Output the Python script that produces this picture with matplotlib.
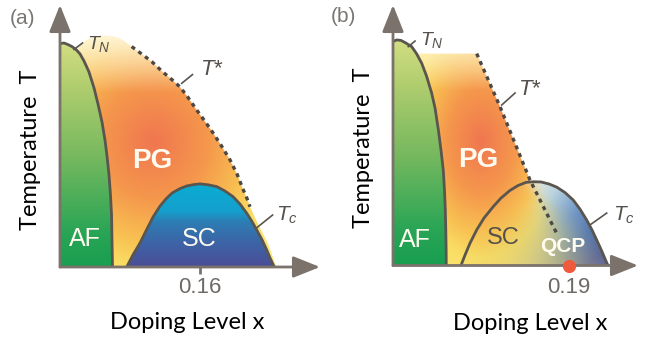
import numpy as np
import matplotlib
matplotlib.use("Agg")
import matplotlib.pyplot as plt
from matplotlib.patches import Polygon

plt.rcParams['font.family'] = ['Liberation Sans', 'DejaVu Sans']
plt.rcParams['mathtext.fontset'] = 'custom'
plt.rcParams['mathtext.it'] = 'Liberation Sans:italic'
plt.rcParams['mathtext.rm'] = 'Liberation Sans'

# ---------------- panel (a): doping x, temperature T (T_N(0) = 1) ----------------
a_af_x = [0.000, 0.0011, 0.0046, 0.0091, 0.0137, 0.0183, 0.0229, 0.0274, 0.0331, 0.0389,
          0.0434, 0.0480, 0.0514, 0.0537, 0.0560, 0.0577, 0.0589, 0.0594, 0.0600]
a_af_T = [0.996, 0.998, 1.000, 0.993, 0.984, 0.971, 0.951, 0.920, 0.871, 0.799,
          0.728, 0.647, 0.567, 0.496, 0.411, 0.321, 0.232, 0.121, 0.000]

a_sc_x = [0.0762, 0.0834, 0.0914, 0.0994, 0.1063, 0.1143, 0.1211, 0.1280, 0.1371, 0.1451,
          0.1531, 0.1600, 0.1691, 0.1791, 0.1886, 0.1977, 0.2057, 0.2134, 0.2194, 0.2248,
          0.2309, 0.2362, 0.2400, 0.2438, 0.2451]
a_sc_T = [0.000, 0.054, 0.107, 0.170, 0.223, 0.272, 0.304, 0.330, 0.350, 0.362,
          0.368, 0.371, 0.367, 0.359, 0.339, 0.314, 0.281, 0.240, 0.203, 0.165,
          0.121, 0.076, 0.040, 0.009, 0.000]

a_pg_top_x = [0.0194, 0.0251, 0.0320, 0.0400, 0.0514, 0.0629, 0.0709]
a_pg_top_T = [0.969, 0.998, 1.018, 1.029, 1.034, 1.029, 1.016]

a_tstar_x = [0.0819, 0.0926, 0.1048, 0.1162, 0.1277, 0.1371, 0.1463, 0.1562, 0.1657, 0.1752,
             0.1846, 0.1943, 0.2023, 0.2095, 0.2137, 0.2171]
a_tstar_T = [0.984, 0.953, 0.917, 0.875, 0.837, 0.804, 0.757, 0.701, 0.650, 0.597,
             0.540, 0.478, 0.415, 0.344, 0.306, 0.269]

a_pg_tail_x = [0.2240, 0.2323, 0.2377, 0.2423, 0.2469]
a_pg_tail_T = [0.210, 0.146, 0.103, 0.054, 0.000]

a_opt_doping = 0.16

# ---------------- panel (b): T* line ending at a quantum critical point ----------------
b_af_x = [0.000, 0.0040, 0.0086, 0.0140, 0.0202, 0.0254, 0.0310, 0.0362, 0.0418, 0.0454,
          0.0490, 0.0518, 0.0543, 0.0556, 0.0565, 0.0570, 0.0574, 0.0575]
b_af_T = [1.000, 1.007, 1.005, 0.993, 0.977, 0.946, 0.903, 0.846, 0.769, 0.703,
          0.605, 0.516, 0.426, 0.337, 0.248, 0.159, 0.069, 0.000]

b_sc_x = [0.0734, 0.0778, 0.0832, 0.0904, 0.0983, 0.1083, 0.1166, 0.1263, 0.1350, 0.1436,
          0.1515, 0.1598, 0.1685, 0.1768, 0.1857, 0.1947, 0.2019, 0.2092, 0.2149, 0.2200,
          0.2252, 0.2300, 0.2322]
b_sc_T = [0.000, 0.047, 0.100, 0.159, 0.212, 0.263, 0.301, 0.335, 0.357, 0.371,
          0.374, 0.373, 0.364, 0.350, 0.326, 0.292, 0.252, 0.203, 0.159, 0.114,
          0.067, 0.020, 0.000]

b_pg_top_x = [0.0254, 0.0904]
b_pg_top_T = [0.946, 0.946]

b_tstar_x = [0.0904, 0.1156, 0.1479, 0.1771]
b_tstar_T = [0.946, 0.709, 0.382, 0.141]

b_qcp = 0.19

# ---------------- styling ----------------
AXIS = '#7b726b'
LINE = '#5a554f'
DOTS = '#4d4844'
DARK_TXT = '#55504b'
TICK_TXT = '#6e6a66'
WHITE_TXT = '#fffbf0'
W, H = 652, 339


def ramp(v, stops, colors):
    c = np.asarray(colors, float) / 255.0
    return np.stack([np.interp(v, stops, c[:, i]) for i in range(3)], axis=-1)


def pg_field(X, T, cx, cT, rx, rT):
    d = np.hypot((X - cx) / rx, (T - cT) / rT)
    rgb = ramp(d, [0, 0.5, 0.85, 1.1, 1.4],
               [(240, 118, 80), (245, 152, 76), (248, 192, 82), (250, 222, 100), (251, 230, 120)])
    f = (np.clip((T - 0.78) / 0.25, 0, 1) * 0.9)[..., None]
    return rgb * (1 - f) + f * np.array([255, 248, 225]) / 255.0


def af_field(X, T):
    return ramp(T, [0, 0.15, 0.5, 0.8, 1.0],
                [(25, 158, 80), (40, 165, 85), (120, 185, 95), (175, 205, 110), (210, 222, 130)])


def sc_field_a(X, T):
    return ramp(T, [0, 0.1, 0.2, 0.25, 0.37],
                [(75, 78, 150), (62, 98, 165), (45, 125, 180), (20, 160, 205), (10, 172, 212)])


def sc_field_b(X, T, left):
    tx = np.append(b_tstar_x, b_qcp)[::-1]
    tT = np.append(b_tstar_T, 0.0)[::-1]
    xl = np.interp(T, tT, tx)
    d = X - xl
    s = 0.004 + 0.025 * np.clip(1 - T / 0.3, 0, 1)
    w = (1 / (1 + np.exp(-d / s)))[..., None]
    u = np.hypot((X - 0.148) / 0.09, (T - 0.39) / 0.35)
    right = ramp(u, [0, 0.35, 0.7, 1.0, 1.3],
                 [(238, 242, 235), (185, 210, 222), (110, 150, 200), (70, 110, 180), (62, 78, 158)])
    return left * (1 - w) + right * w


def add_image(ax, rgb, verts, xmax, ymax, z):
    patch = Polygon(verts, closed=True, facecolor='none', edgecolor='none',
                    transform=ax.transData)
    ax.add_patch(patch)
    im = ax.imshow(rgb, extent=(0, xmax, 0, ymax), origin='lower', aspect='auto',
                   interpolation='bilinear', zorder=z)
    im.set_clip_path(patch)


def setup_axes(rect, xmax, ymax):
    ax = fig.add_axes(rect)
    ax.set_xlim(0, xmax)
    ax.set_ylim(0, ymax)
    for sp in ax.spines.values():
        sp.set_visible(False)
    ax.set_yticks([])
    arrow = dict(arrowstyle='-|>,head_length=0.55,head_width=0.22', mutation_scale=30,
                 lw=2.0, color=AXIS, shrinkA=0, shrinkB=0)
    ax.annotate('', xy=(1, 0), xytext=(0, 0), xycoords='axes fraction',
                textcoords='axes fraction', arrowprops=arrow, zorder=7)
    ax.annotate('', xy=(0, 1), xytext=(0, 0), xycoords='axes fraction',
                textcoords='axes fraction', arrowprops=arrow, zorder=7)
    return ax


def pts(xs, ts):
    return np.column_stack([xs, ts])


fig = plt.figure(figsize=(W / 100, H / 100), dpi=100)

# ================= panel (a) =================
ax_xmax, ax_ymax = 0.2971, 1.1696
ax = setup_axes([60 / W, (H - 267) / H, 260 / W, 262 / H], ax_xmax, ax_ymax)
gx, gT = np.meshgrid(np.linspace(0, ax_xmax, 400), np.linspace(0, ax_ymax, 400))

pg_verts = np.vstack([pts(a_pg_top_x, a_pg_top_T), pts(a_tstar_x, a_tstar_T),
                      pts(a_pg_tail_x, a_pg_tail_T), pts(a_af_x, a_af_T)[::-1]])
add_image(ax, pg_field(gx, gT, 0.107, 0.56, 0.125, 0.52), pg_verts, ax_xmax, ax_ymax, 1)
add_image(ax, af_field(gx, gT), np.vstack([pts(a_af_x, a_af_T), [[0, 0]]]), ax_xmax, ax_ymax, 2)
add_image(ax, sc_field_a(gx, gT), pts(a_sc_x, a_sc_T), ax_xmax, ax_ymax, 2)

ax.plot(a_af_x, a_af_T, color=LINE, lw=2.0, zorder=4, solid_capstyle='round')
ax.plot(a_sc_x, a_sc_T, color=LINE, lw=2.0, zorder=4, solid_capstyle='round')
ax.plot(a_tstar_x, a_tstar_T, color=DOTS, lw=2.4, ls=(0, (1.2, 1.3)), zorder=4)

# leader lines for the phase-boundary names
ax.plot([0.0160, 0.0257], [0.971, 1.000], color=LINE, lw=1.2, zorder=4, clip_on=False)
ax.plot([0.1391, 0.1514], [0.820, 0.859], color=LINE, lw=1.2, zorder=4)
ax.plot([0.2251, 0.2429], [0.176, 0.232], color=LINE, lw=1.2, zorder=4)
ax.text(0.0303, 0.975, '$T_N$', fontsize=14, color=DARK_TXT, ha='left', va='baseline', zorder=6)
ax.text(0.1600, 0.857, '$T$*', fontsize=16, color=DARK_TXT, ha='left', va='baseline', zorder=6)
ax.text(0.2469, 0.205, '$T_c$', fontsize=15, color=DARK_TXT, ha='left', va='baseline', zorder=6,
        clip_on=False)

ax.text(0.105, 0.473, 'PG', fontsize=20, fontweight='bold', color=WHITE_TXT, ha='center',
        va='center', zorder=6)
ax.text(0.0286, 0.125, 'AF', fontsize=18, color=WHITE_TXT, ha='center', va='center', zorder=6)
ax.text(0.1589, 0.125, 'SC', fontsize=18, color=WHITE_TXT, ha='center', va='center', zorder=6)

ax.set_xticks([a_opt_doping])
ax.set_xticklabels([f'{a_opt_doping:.2f}'])
ax.tick_params(axis='x', length=5, width=2, color=AXIS, labelcolor=TICK_TXT, labelsize=16, pad=2)
ax.set_xlabel('Doping Level x', fontsize=17, family=['Lato', 'DejaVu Sans'], va='center')
ax.xaxis.set_label_coords(0.488, -0.21)
ax.set_ylabel('Temperature  T', fontsize=17, family=['Lato', 'DejaVu Sans'], va='center')
ax.yaxis.set_label_coords(-0.115, 0.447)
ax.text(-0.146, 0.947, '(a)', transform=ax.transAxes, fontsize=15, color='#7a7773',
        ha='center', va='center')

# ================= panel (b) =================
bx_xmax, bx_ymax = 0.2646, 1.163
bx = setup_axes([393 / W, (H - 265.5) / H, 245 / W, 260.5 / H], bx_xmax, bx_ymax)
hx, hT = np.meshgrid(np.linspace(0, bx_xmax, 400), np.linspace(0, bx_ymax, 400))

pg_b = pg_field(hx, hT, 0.095, 0.55, 0.075, 0.47)
pg_verts_b = np.vstack([pts(b_pg_top_x, b_pg_top_T), pts(b_tstar_x, b_tstar_T),
                        [[b_qcp, 0.0]], pts(b_af_x, b_af_T)[::-1]])
add_image(bx, pg_b, pg_verts_b, bx_xmax, bx_ymax, 1)
add_image(bx, af_field(hx, hT), np.vstack([pts(b_af_x, b_af_T), [[0, 0]]]), bx_xmax, bx_ymax, 2)
add_image(bx, sc_field_b(hx, hT, pg_b), pts(b_sc_x, b_sc_T), bx_xmax, bx_ymax, 2)

bx.plot(b_af_x, b_af_T, color=LINE, lw=2.0, zorder=4, solid_capstyle='round')
bx.plot(b_sc_x, b_sc_T, color=LINE, lw=2.0, zorder=4, solid_capstyle='round')
bx.plot(b_tstar_x, b_tstar_T, color=DOTS, lw=2.4, ls=(0, (1.2, 1.3)), zorder=4)

bx.plot([0.0165, 0.0238], [0.977, 1.002], color=LINE, lw=1.2, zorder=4, clip_on=False)
bx.plot([0.1174, 0.1318], [0.7165, 0.770], color=LINE, lw=1.2, zorder=4)
bx.plot([0.2127, 0.2308], [0.181, 0.234], color=LINE, lw=1.2, zorder=4)
bx.text(0.0292, 0.984, '$T_N$', fontsize=14, color=DARK_TXT, ha='left', va='baseline', zorder=6)
bx.text(0.1353, 0.761, '$T$*', fontsize=16, color=DARK_TXT, ha='left', va='baseline', zorder=6)
bx.text(0.2376, 0.199, '$T_c$', fontsize=15, color=DARK_TXT, ha='left', va='baseline', zorder=6,
        clip_on=False)

bx.text(0.0918, 0.471, 'PG', fontsize=20, fontweight='bold', color=WHITE_TXT, ha='center',
        va='center', zorder=6)
bx.text(0.0238, 0.114, 'AF', fontsize=18, color=WHITE_TXT, ha='center', va='center', zorder=6)
bx.text(0.1188, 0.123, 'SC', fontsize=17, color=DARK_TXT, ha='center', va='center', zorder=6)
bx.text(0.1836, 0.084, 'QCP', fontsize=15, fontweight='bold', color=WHITE_TXT, ha='center',
        va='center', zorder=6)
bx.plot([b_qcp], [0.0], 'o', ms=9.5, color='#f05a3c', mec='none', zorder=8, clip_on=False)

bx.set_xticks([b_qcp])
bx.set_xticklabels([f'{b_qcp:.2f}'])
bx.tick_params(axis='x', length=0, labelcolor=TICK_TXT, labelsize=16, pad=8)
bx.set_xlabel('Doping Level x', fontsize=17, family=['Lato', 'DejaVu Sans'], va='center')
bx.xaxis.set_label_coords(0.559, -0.221)
bx.set_ylabel('Temperature  T', fontsize=17, family=['Lato', 'DejaVu Sans'], va='center')
bx.yaxis.set_label_coords(-0.122, 0.451)
bx.text(-0.204, 0.954, '(b)', transform=bx.transAxes, fontsize=15, color='#7a7773',
        ha='center', va='center')

fig.savefig('out.png', dpi=100)
